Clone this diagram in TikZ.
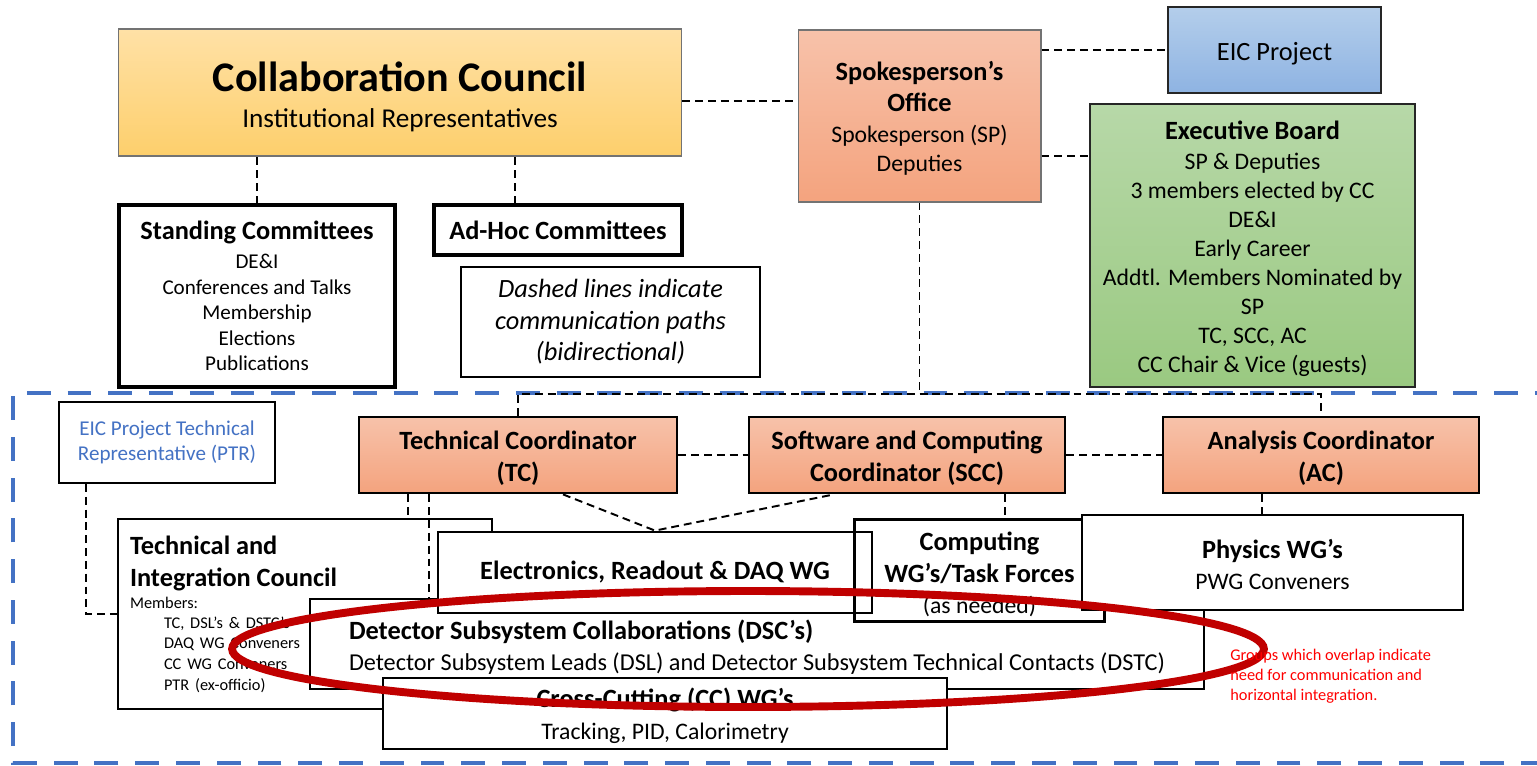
\documentclass[tikz,border=0pt]{standalone}
\usepackage{fontspec}
\setmainfont{Carlito}
\usepackage{tikz}
\usetikzlibrary{calc}

\definecolor{cctop}{HTML}{FFE1A6}
\definecolor{ccbot}{HTML}{FDCF6C}
\definecolor{sptop}{HTML}{F7C2AA}
\definecolor{spbot}{HTML}{F4A37E}
\definecolor{eictop}{HTML}{B4CEEB}
\definecolor{eicbot}{HTML}{8EB3E2}
\definecolor{ebtop}{HTML}{B7D8A8}
\definecolor{ebbot}{HTML}{9AC981}
\definecolor{frameblue}{HTML}{4472C4}
\definecolor{ovalred}{HTML}{C00000}

\newcommand{\bigfont}{\normalfont\fontsize{24}{29}\selectfont\bfseries}
\newcommand{\hdfont}{\normalfont\fontsize{15}{18.3}\selectfont\bfseries}
\newcommand{\mdfont}{\normalfont\fontsize{13.5}{16.5}\selectfont}
\newcommand{\txtfont}{\normalfont\fontsize{12}{14.5}\selectfont}
\newcommand{\smfont}{\normalfont\fontsize{9.3}{11.4}\selectfont}

\begin{document}
\begin{tikzpicture}[x=0.02cm, y=-0.02cm,
    box/.style={draw, line width=1.6pt, fill=white, align=center, inner sep=0pt},
    topbox/.style={draw=black!55, line width=0.6pt, align=center, inner sep=0pt},
    link/.style={line width=1.1pt, dash pattern=on 4.5pt off 2.8pt},
    frame/.style={frameblue, line width=2.8pt, dash pattern=on 13.6pt off 9.6pt}]
  \useasboundingbox (0,0) rectangle (1537,766);
  \draw[frame] (1545,763) -- (13,763) -- (13,393) -- (1545,393);

  \node[topbox, font=\normalfont\fontsize{15.5}{19}\selectfont, top color=cctop, bottom color=ccbot, minimum width=11.28cm, minimum height=2.54cm] (council) at (400,92.5)
    {\bigfont\rule{0pt}{22pt}Collaboration Council\\[1.8pt]Institutional Representatives};
  \node[topbox, font=\mdfont, top color=sptop, bottom color=spbot, minimum width=4.86cm, minimum height=3.44cm] (spokes) at (919.5,116)
    {\hdfont\rule{0pt}{14pt}Spokesperson’s\\[1.2pt]\hdfont Office\\[1.2pt]Spokesperson (SP)\\Deputies};
  \node[topbox, font=\normalfont\fontsize{15}{18}\selectfont, draw=black!85, line width=1pt, top color=eictop, bottom color=eicbot, minimum width=4.26cm, minimum height=1.72cm] (eic) at (1274.5,50)
    {\rule{0pt}{14pt}EIC Project};
  \node[topbox, font=\mdfont, draw=black!85, line width=1pt, top color=ebtop, bottom color=ebbot, minimum width=6.5cm, minimum height=5.66cm] (exec) at (1252.5,245.5)
    {\hdfont\rule{0pt}{14pt}Executive Board\\[0.5pt]SP \& Deputies\\3 members elected by CC\\DE\&I\\Early Career\\Addtl. Members Nominated by\\SP\\TC, SCC, AC\\CC Chair \& Vice (guests)};
  \node[box, font=\txtfont, line width=1.8pt, minimum width=5.52cm, minimum height=3.64cm] (standing) at (257,296)
    {\hdfont Standing Committees\\[1.9pt]DE\&I\\Conferences and Talks\\Membership\\Elections\\Publications};
  \node[box, font=\hdfont, line width=1.8pt, minimum width=4.96cm, minimum height=1cm] (adhoc) at (558,230) {Ad-Hoc Committees};
  \node[box, font=\normalfont\fontsize{15}{18}\selectfont\itshape, line width=0.8pt, minimum width=5.98cm, minimum height=2.2cm] (note) at (610.5,322)
    {Dashed lines indicate\\communication paths\\(bidirectional)};
  \node[box, font=\txtfont, line width=1.1pt, minimum width=4.32cm, minimum height=1.62cm, text=frameblue] (ptr) at (167,442.5)
    {EIC Project Technical\\Representative (PTR)};

  \node[box, font=\hdfont, top color=sptop, bottom color=spbot, minimum width=6.36cm, minimum height=1.52cm] (tc) at (518,455)
    {\rule{0pt}{14pt}Technical Coordinator\\(TC)};
  \node[box, font=\hdfont, top color=sptop, bottom color=spbot, minimum width=6.32cm, minimum height=1.52cm] (scc) at (907,455)
    {\rule{0pt}{14pt}Software and Computing\\Coordinator (SCC)};
  \node[box, font=\hdfont, top color=sptop, bottom color=spbot, minimum width=6.32cm, minimum height=1.52cm] (ac) at (1321,455)
    {\rule{0pt}{14pt}Analysis Coordinator\\(AC)};

  \node[box, align=left, text width=7cm, inner xsep=0.24cm, minimum height=3.8cm] (tic) at (305,614)
    {\hdfont Technical and\\Integration Council\\[1.5pt]\smfont Members:\\
     \hspace*{0.68cm}TC, DSL’s \& DSTC’s\\\hspace*{0.68cm}DAQ WG Conveners\\
     \hspace*{0.68cm}CC WG Conveners\\\hspace*{0.68cm}PTR (ex-officio)};
  \node[box, font=\mdfont, align=left, minimum width=17.88cm, minimum height=1.8cm] (dsc) at (757,644)
    {\hdfont\rule{0pt}{15pt}Detector Subsystem Collaborations (DSC’s)\\[1.1pt]\fontsize{13.8}{16.5}\selectfont Detector Subsystem Leads (DSL) and Detector Subsystem Technical Contacts (DSTC)};
  \node[box, font=\mdfont, draw=none, minimum width=4.94cm, minimum height=1.98cm] (comp) at (979.5,570.5)
    {\hdfont\rule{0pt}{15pt}Computing\\[1.6pt]\hdfont WG’s/Task Forces\\[1.1pt](as needed)};
  \node[box, font=\hdfont, minimum width=8.68cm, minimum height=1.62cm] (elec) at (655,572.5) {Electronics, Readout \& DAQ WG};
  \draw[line width=1.6pt] (comp.south west) rectangle (comp.north east);
  \node[box, font=\mdfont, minimum width=7.62cm, minimum height=1.9cm] (physics) at (1272.5,562.5)
    {\hdfont\rule{0pt}{13pt}Physics WG’s\\[1.1pt]PWG Conveners};
  \node[box, font=\mdfont, minimum width=11.28cm, minimum height=1.42cm] (ccwg) at (665,713.5)
    {\hdfont\rule{0pt}{14pt}Cross-Cutting (CC) WG’s\\[1.6pt]Tracking, PID, Calorimetry};

  \coordinate (bus) at (0,394);
  \draw[link] ([yshift=-0.17cm]council.east) -- ([yshift=-0.17cm]council.east -| spokes.west);
  \draw[link] (eic.west -| spokes.east) -- (eic.west);
  \draw[link] ([yshift=-0.8cm]spokes.east) -- ([yshift=-0.8cm]spokes.east -| exec.west);
  \draw[link] (standing.north) -- (standing.north |- council.south);
  \draw[link] ([xshift=-0.86cm]adhoc.north) -- ([xshift=-0.86cm]adhoc.north |- council.south);
  \draw[link] (spokes.south) -- (spokes.south |- bus);
  \draw[link] (tc.north) -- (tc.north |- bus) -- (ac.north |- bus) -- (ac.north);
  \draw[link] (tc.east) -- (scc.west);
  \draw[link] (scc.east) -- (ac.west);
  \draw[link] ([xshift=-2.2cm]tc.south) -- ([xshift=-2.2cm]tc.south |- tic.north);
  \draw[link] ([xshift=-1.78cm]tc.south) -- ([xshift=-1.78cm]tc.south |- dsc.north);
  \draw[link] ([xshift=0.9cm]tc.south) -- (elec.north) -- ([xshift=-1.46cm]scc.south);
  \draw[link] ([xshift=1.96cm]scc.south) -- ([xshift=1.96cm]scc.south |- comp.north);
  \draw[link] ([xshift=-1.18cm]ac.south) -- ([xshift=-1.18cm]ac.south |- physics.north);
  \draw[link] ([xshift=-1.62cm]ptr.south) |- (tic.west);

  \draw[ovalred, line width=4.5pt] (748,649) ellipse [x radius=10.32cm, y radius=1.16cm];
  \node[anchor=north west, align=left, inner sep=0pt, text=red, font=\smfont] (overlapnote) at (1230,649)
    {Groups which overlap indicate\\need for communication and\\horizontal integration.};
\end{tikzpicture}
\end{document}
